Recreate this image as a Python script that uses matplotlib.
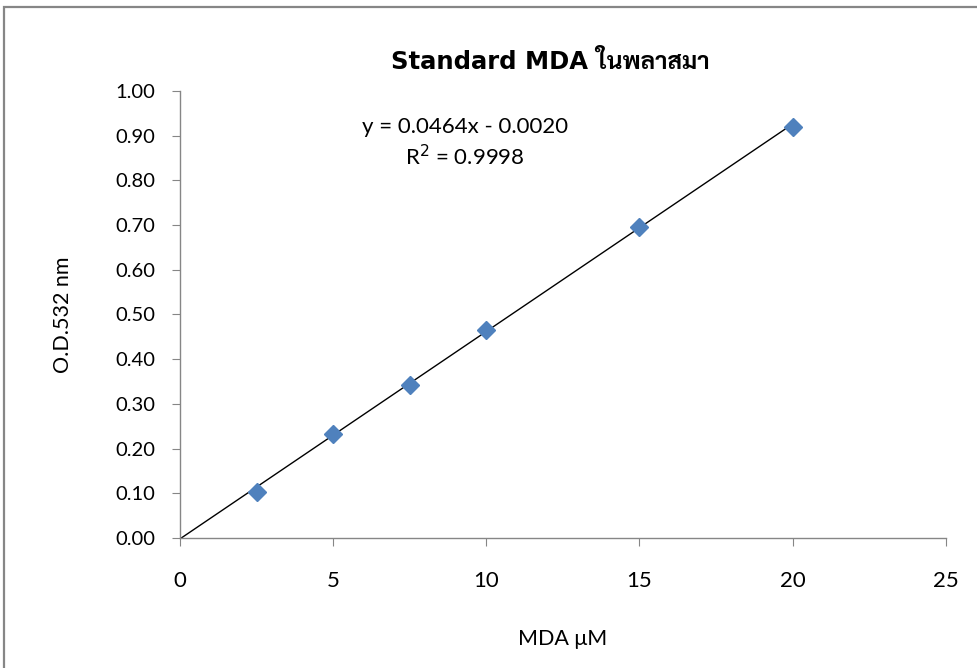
import numpy as np
import matplotlib.pyplot as plt
from matplotlib.patches import Rectangle

# standard curve data (MDA in plasma)
conc = [2.5, 5, 7.5, 10, 15, 20]
od = [0.103, 0.233, 0.342, 0.465, 0.696, 0.919]

slope = 0.0464
intercept = -0.0020
r2 = 0.9998

yticks = [0.0, 0.1, 0.2, 0.3, 0.4, 0.5, 0.6, 0.7, 0.8, 0.9, 1.0]
xticks = [0, 5, 10, 15, 20, 25]

plt.rcParams['font.family'] = ['Lato', 'Sarabun', 'DejaVu Sans']

fig = plt.figure(figsize=(9.78, 6.68), dpi=100)
ax = fig.add_axes([0.184, 0.1946, 0.783, 0.6692])

# outer chart frame, cut off at right / bottom like the reference
fig.patches.append(Rectangle((4/978, -0.1), 1.2, 1 - 7/668 + 0.1, transform=fig.transFigure,
                             fill=False, edgecolor='#868686', lw=1.6))

# linear trendline from 0 to last point
xfit = np.array([0, max(conc)])
ax.plot(xfit, slope*xfit + intercept, color='black', lw=1.0, zorder=2)
ax.plot(conc, od, 'D', color='#4F81BD', ms=9.5, mec='#4F81BD', zorder=3)

ax.set_xlim(0, 25)
ax.set_ylim(0, 1.0)
ax.set_xticks(xticks)
ax.set_yticks(yticks)
ax.set_yticklabels(['%.2f' % v for v in yticks])

for s in ['top', 'right']:
    ax.spines[s].set_visible(False)
for s in ['left', 'bottom']:
    ax.spines[s].set_color('#868686')
    ax.spines[s].set_linewidth(1.0)

ax.tick_params(axis='y', direction='out', length=6, color='#868686', labelsize=14.5, pad=12)
ax.tick_params(axis='x', direction='out', length=6, color='#868686', labelsize=16, pad=18)

ax.set_xlabel('MDA μM', fontsize=15.5, labelpad=27)
ax.set_ylabel('O.D.532 nm', fontsize=15.5, labelpad=30)

fig.text(0.563, 0.907, 'Standard MDA ในพลาสมา', ha='center', va='center',
         fontsize=17.5, fontweight='bold', family=['DejaVu Sans', 'Sarabun'])

fig.text(465/978, 1 - 127/668, 'y = %.4fx - %.4f' % (slope, abs(intercept)),
         ha='center', va='center', fontsize=16)
fig.text(465/978, 1 - 157/668, 'R$^2$ = %.4f' % r2, ha='center', va='center', fontsize=16)

fig.savefig('out.png', dpi=100)
